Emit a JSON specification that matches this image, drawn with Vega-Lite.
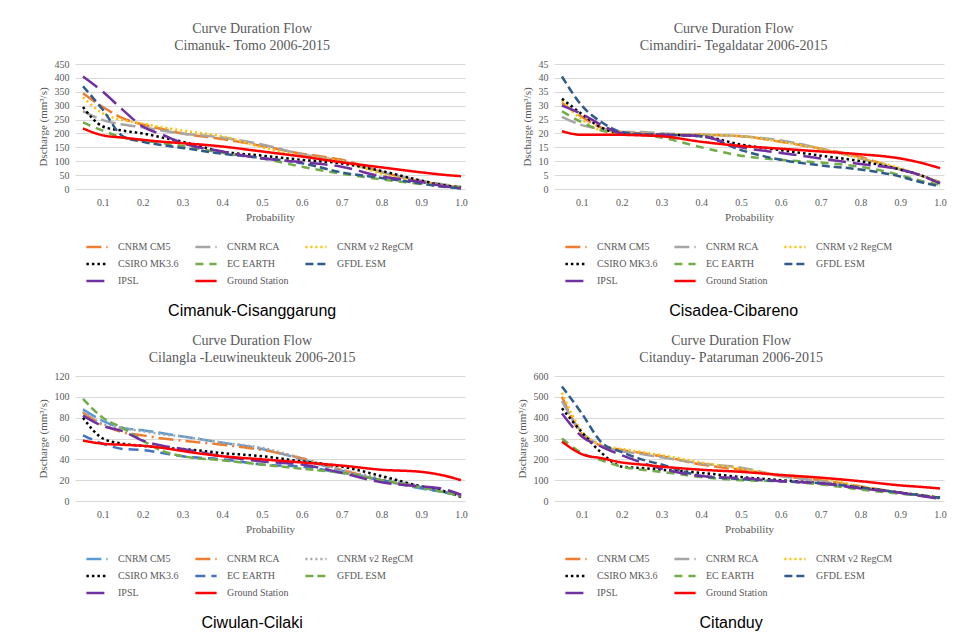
{
  "$schema": "https://vega.github.io/schema/vega-lite/v6.json",
  "background": "white",
  "padding": {"left": 37, "top": 22, "right": 0, "bottom": 0},
  "datasets": {
    "p1": [
      {"m":"CNRM CM5","p":0.05,"q":345},{"m":"CNRM CM5","p":0.1,"q":295},{"m":"CNRM CM5","p":0.15,"q":255},{"m":"CNRM CM5","p":0.2,"q":232},{"m":"CNRM CM5","p":0.25,"q":215},{"m":"CNRM CM5","p":0.3,"q":200},{"m":"CNRM CM5","p":0.4,"q":180},{"m":"CNRM CM5","p":0.5,"q":155},{"m":"CNRM CM5","p":0.6,"q":127},{"m":"CNRM CM5","p":0.7,"q":105},{"m":"CNRM CM5","p":0.8,"q":62},{"m":"CNRM CM5","p":0.9,"q":27},{"m":"CNRM CM5","p":0.95,"q":15},{"m":"CNRM CM5","p":1.0,"q":5},
      {"m":"CNRM RCA","p":0.05,"q":280},{"m":"CNRM RCA","p":0.1,"q":248},{"m":"CNRM RCA","p":0.15,"q":232},{"m":"CNRM RCA","p":0.2,"q":222},{"m":"CNRM RCA","p":0.25,"q":210},{"m":"CNRM RCA","p":0.3,"q":200},{"m":"CNRM RCA","p":0.4,"q":185},{"m":"CNRM RCA","p":0.5,"q":160},{"m":"CNRM RCA","p":0.6,"q":125},{"m":"CNRM RCA","p":0.7,"q":100},{"m":"CNRM RCA","p":0.8,"q":60},{"m":"CNRM RCA","p":0.9,"q":30},{"m":"CNRM RCA","p":0.95,"q":18},{"m":"CNRM RCA","p":1.0,"q":8},
      {"m":"CNRM v2 RegCM","p":0.05,"q":330},{"m":"CNRM v2 RegCM","p":0.1,"q":272},{"m":"CNRM v2 RegCM","p":0.15,"q":248},{"m":"CNRM v2 RegCM","p":0.2,"q":235},{"m":"CNRM v2 RegCM","p":0.25,"q":222},{"m":"CNRM v2 RegCM","p":0.3,"q":210},{"m":"CNRM v2 RegCM","p":0.4,"q":190},{"m":"CNRM v2 RegCM","p":0.5,"q":150},{"m":"CNRM v2 RegCM","p":0.6,"q":120},{"m":"CNRM v2 RegCM","p":0.7,"q":100},{"m":"CNRM v2 RegCM","p":0.8,"q":55},{"m":"CNRM v2 RegCM","p":0.9,"q":25},{"m":"CNRM v2 RegCM","p":0.95,"q":14},{"m":"CNRM v2 RegCM","p":1.0,"q":5},
      {"m":"CSIRO MK3.6","p":0.05,"q":295},{"m":"CSIRO MK3.6","p":0.1,"q":225},{"m":"CSIRO MK3.6","p":0.15,"q":210},{"m":"CSIRO MK3.6","p":0.2,"q":200},{"m":"CSIRO MK3.6","p":0.25,"q":185},{"m":"CSIRO MK3.6","p":0.3,"q":170},{"m":"CSIRO MK3.6","p":0.4,"q":135},{"m":"CSIRO MK3.6","p":0.5,"q":120},{"m":"CSIRO MK3.6","p":0.6,"q":105},{"m":"CSIRO MK3.6","p":0.7,"q":92},{"m":"CSIRO MK3.6","p":0.8,"q":65},{"m":"CSIRO MK3.6","p":0.9,"q":30},{"m":"CSIRO MK3.6","p":0.95,"q":15},{"m":"CSIRO MK3.6","p":1.0,"q":5},
      {"m":"EC EARTH","p":0.05,"q":240},{"m":"EC EARTH","p":0.1,"q":210},{"m":"EC EARTH","p":0.15,"q":185},{"m":"EC EARTH","p":0.2,"q":175},{"m":"EC EARTH","p":0.25,"q":165},{"m":"EC EARTH","p":0.3,"q":155},{"m":"EC EARTH","p":0.4,"q":130},{"m":"EC EARTH","p":0.5,"q":110},{"m":"EC EARTH","p":0.6,"q":80},{"m":"EC EARTH","p":0.7,"q":55},{"m":"EC EARTH","p":0.8,"q":35},{"m":"EC EARTH","p":0.9,"q":18},{"m":"EC EARTH","p":0.95,"q":10},{"m":"EC EARTH","p":1.0,"q":3},
      {"m":"GFDL ESM","p":0.05,"q":370},{"m":"GFDL ESM","p":0.1,"q":285},{"m":"GFDL ESM","p":0.15,"q":190},{"m":"GFDL ESM","p":0.2,"q":170},{"m":"GFDL ESM","p":0.25,"q":158},{"m":"GFDL ESM","p":0.3,"q":148},{"m":"GFDL ESM","p":0.4,"q":127},{"m":"GFDL ESM","p":0.5,"q":112},{"m":"GFDL ESM","p":0.6,"q":93},{"m":"GFDL ESM","p":0.7,"q":60},{"m":"GFDL ESM","p":0.8,"q":40},{"m":"GFDL ESM","p":0.9,"q":20},{"m":"GFDL ESM","p":0.95,"q":9},{"m":"GFDL ESM","p":1.0,"q":3},
      {"m":"IPSL","p":0.05,"q":405},{"m":"IPSL","p":0.1,"q":350},{"m":"IPSL","p":0.15,"q":285},{"m":"IPSL","p":0.2,"q":225},{"m":"IPSL","p":0.25,"q":195},{"m":"IPSL","p":0.3,"q":165},{"m":"IPSL","p":0.4,"q":135},{"m":"IPSL","p":0.5,"q":110},{"m":"IPSL","p":0.6,"q":97},{"m":"IPSL","p":0.7,"q":80},{"m":"IPSL","p":0.8,"q":45},{"m":"IPSL","p":0.9,"q":25},{"m":"IPSL","p":0.95,"q":12},{"m":"IPSL","p":1.0,"q":2},
      {"m":"Ground Station","p":0.05,"q":218},{"m":"Ground Station","p":0.1,"q":193},{"m":"Ground Station","p":0.15,"q":185},{"m":"Ground Station","p":0.2,"q":177},{"m":"Ground Station","p":0.25,"q":170},{"m":"Ground Station","p":0.3,"q":165},{"m":"Ground Station","p":0.4,"q":153},{"m":"Ground Station","p":0.5,"q":135},{"m":"Ground Station","p":0.6,"q":117},{"m":"Ground Station","p":0.7,"q":96},{"m":"Ground Station","p":0.8,"q":78},{"m":"Ground Station","p":0.9,"q":60},{"m":"Ground Station","p":0.95,"q":52},{"m":"Ground Station","p":1.0,"q":46}
    ],
    "p2": [
      {"m":"CNRM CM5","p":0.05,"q":31},{"m":"CNRM CM5","p":0.1,"q":26},{"m":"CNRM CM5","p":0.15,"q":22},{"m":"CNRM CM5","p":0.2,"q":20.5},{"m":"CNRM CM5","p":0.25,"q":20},{"m":"CNRM CM5","p":0.3,"q":19.5},{"m":"CNRM CM5","p":0.4,"q":19.5},{"m":"CNRM CM5","p":0.5,"q":19},{"m":"CNRM CM5","p":0.6,"q":17},{"m":"CNRM CM5","p":0.7,"q":14.5},{"m":"CNRM CM5","p":0.8,"q":11.5},{"m":"CNRM CM5","p":0.9,"q":7},{"m":"CNRM CM5","p":0.95,"q":5},{"m":"CNRM CM5","p":1.0,"q":2},
      {"m":"CNRM RCA","p":0.05,"q":26},{"m":"CNRM RCA","p":0.1,"q":23},{"m":"CNRM RCA","p":0.15,"q":21.5},{"m":"CNRM RCA","p":0.2,"q":20.5},{"m":"CNRM RCA","p":0.25,"q":20.5},{"m":"CNRM RCA","p":0.3,"q":20},{"m":"CNRM RCA","p":0.4,"q":19.5},{"m":"CNRM RCA","p":0.5,"q":19},{"m":"CNRM RCA","p":0.6,"q":17.5},{"m":"CNRM RCA","p":0.7,"q":14.5},{"m":"CNRM RCA","p":0.8,"q":11},{"m":"CNRM RCA","p":0.9,"q":7},{"m":"CNRM RCA","p":0.95,"q":5},{"m":"CNRM RCA","p":1.0,"q":2.5},
      {"m":"CNRM v2 RegCM","p":0.05,"q":32},{"m":"CNRM v2 RegCM","p":0.1,"q":25},{"m":"CNRM v2 RegCM","p":0.15,"q":21},{"m":"CNRM v2 RegCM","p":0.2,"q":20},{"m":"CNRM v2 RegCM","p":0.25,"q":20},{"m":"CNRM v2 RegCM","p":0.3,"q":19.5},{"m":"CNRM v2 RegCM","p":0.4,"q":19.5},{"m":"CNRM v2 RegCM","p":0.5,"q":19},{"m":"CNRM v2 RegCM","p":0.6,"q":17},{"m":"CNRM v2 RegCM","p":0.7,"q":14.5},{"m":"CNRM v2 RegCM","p":0.8,"q":11},{"m":"CNRM v2 RegCM","p":0.9,"q":7.5},{"m":"CNRM v2 RegCM","p":0.95,"q":5},{"m":"CNRM v2 RegCM","p":1.0,"q":2.5},
      {"m":"CSIRO MK3.6","p":0.05,"q":32.5},{"m":"CSIRO MK3.6","p":0.1,"q":27},{"m":"CSIRO MK3.6","p":0.15,"q":22},{"m":"CSIRO MK3.6","p":0.2,"q":20},{"m":"CSIRO MK3.6","p":0.25,"q":19.5},{"m":"CSIRO MK3.6","p":0.3,"q":19.5},{"m":"CSIRO MK3.6","p":0.4,"q":19},{"m":"CSIRO MK3.6","p":0.5,"q":16},{"m":"CSIRO MK3.6","p":0.6,"q":14},{"m":"CSIRO MK3.6","p":0.7,"q":12},{"m":"CSIRO MK3.6","p":0.8,"q":10},{"m":"CSIRO MK3.6","p":0.9,"q":7},{"m":"CSIRO MK3.6","p":0.95,"q":5},{"m":"CSIRO MK3.6","p":1.0,"q":2},
      {"m":"EC EARTH","p":0.05,"q":28},{"m":"EC EARTH","p":0.1,"q":24},{"m":"EC EARTH","p":0.15,"q":21},{"m":"EC EARTH","p":0.2,"q":20},{"m":"EC EARTH","p":0.25,"q":19.5},{"m":"EC EARTH","p":0.3,"q":18.5},{"m":"EC EARTH","p":0.4,"q":15},{"m":"EC EARTH","p":0.5,"q":12},{"m":"EC EARTH","p":0.6,"q":10.5},{"m":"EC EARTH","p":0.7,"q":9.5},{"m":"EC EARTH","p":0.8,"q":8},{"m":"EC EARTH","p":0.9,"q":5},{"m":"EC EARTH","p":0.95,"q":3},{"m":"EC EARTH","p":1.0,"q":1.5},
      {"m":"GFDL ESM","p":0.05,"q":40.5},{"m":"GFDL ESM","p":0.1,"q":30},{"m":"GFDL ESM","p":0.15,"q":24},{"m":"GFDL ESM","p":0.2,"q":20.5},{"m":"GFDL ESM","p":0.25,"q":19.8},{"m":"GFDL ESM","p":0.3,"q":19.5},{"m":"GFDL ESM","p":0.4,"q":19},{"m":"GFDL ESM","p":0.5,"q":14},{"m":"GFDL ESM","p":0.6,"q":10.5},{"m":"GFDL ESM","p":0.7,"q":8.5},{"m":"GFDL ESM","p":0.8,"q":7},{"m":"GFDL ESM","p":0.9,"q":4.5},{"m":"GFDL ESM","p":0.95,"q":2.5},{"m":"GFDL ESM","p":1.0,"q":1},
      {"m":"IPSL","p":0.05,"q":30},{"m":"IPSL","p":0.1,"q":27},{"m":"IPSL","p":0.15,"q":23},{"m":"IPSL","p":0.2,"q":20},{"m":"IPSL","p":0.25,"q":19.5},{"m":"IPSL","p":0.3,"q":19.5},{"m":"IPSL","p":0.4,"q":19},{"m":"IPSL","p":0.5,"q":15},{"m":"IPSL","p":0.6,"q":13},{"m":"IPSL","p":0.7,"q":11},{"m":"IPSL","p":0.8,"q":9},{"m":"IPSL","p":0.9,"q":7},{"m":"IPSL","p":0.95,"q":5},{"m":"IPSL","p":1.0,"q":2},
      {"m":"Ground Station","p":0.05,"q":20.8},{"m":"Ground Station","p":0.1,"q":19.5},{"m":"Ground Station","p":0.15,"q":19.5},{"m":"Ground Station","p":0.2,"q":19.5},{"m":"Ground Station","p":0.25,"q":19.3},{"m":"Ground Station","p":0.3,"q":19},{"m":"Ground Station","p":0.4,"q":17},{"m":"Ground Station","p":0.5,"q":15.5},{"m":"Ground Station","p":0.6,"q":14.5},{"m":"Ground Station","p":0.7,"q":13.5},{"m":"Ground Station","p":0.8,"q":12.5},{"m":"Ground Station","p":0.9,"q":11},{"m":"Ground Station","p":0.95,"q":9.5},{"m":"Ground Station","p":1.0,"q":7.5}
    ],
    "p3": [
      {"m":"CNRM CM5","p":0.05,"q":88},{"m":"CNRM CM5","p":0.1,"q":77},{"m":"CNRM CM5","p":0.15,"q":70},{"m":"CNRM CM5","p":0.2,"q":68},{"m":"CNRM CM5","p":0.25,"q":65},{"m":"CNRM CM5","p":0.3,"q":62},{"m":"CNRM CM5","p":0.4,"q":56},{"m":"CNRM CM5","p":0.5,"q":50},{"m":"CNRM CM5","p":0.6,"q":40},{"m":"CNRM CM5","p":0.7,"q":29},{"m":"CNRM CM5","p":0.8,"q":20},{"m":"CNRM CM5","p":0.9,"q":12},{"m":"CNRM CM5","p":0.95,"q":9},{"m":"CNRM CM5","p":1.0,"q":6},
      {"m":"CNRM RCA","p":0.05,"q":85},{"m":"CNRM RCA","p":0.1,"q":73},{"m":"CNRM RCA","p":0.15,"q":66},{"m":"CNRM RCA","p":0.2,"q":63},{"m":"CNRM RCA","p":0.25,"q":60},{"m":"CNRM RCA","p":0.3,"q":58},{"m":"CNRM RCA","p":0.4,"q":54},{"m":"CNRM RCA","p":0.5,"q":49},{"m":"CNRM RCA","p":0.6,"q":41},{"m":"CNRM RCA","p":0.7,"q":30},{"m":"CNRM RCA","p":0.8,"q":20},{"m":"CNRM RCA","p":0.9,"q":13},{"m":"CNRM RCA","p":0.95,"q":10},{"m":"CNRM RCA","p":1.0,"q":6},
      {"m":"CNRM v2 RegCM","p":0.05,"q":86},{"m":"CNRM v2 RegCM","p":0.1,"q":74},{"m":"CNRM v2 RegCM","p":0.15,"q":70},{"m":"CNRM v2 RegCM","p":0.2,"q":67},{"m":"CNRM v2 RegCM","p":0.25,"q":64},{"m":"CNRM v2 RegCM","p":0.3,"q":62},{"m":"CNRM v2 RegCM","p":0.4,"q":56},{"m":"CNRM v2 RegCM","p":0.5,"q":51},{"m":"CNRM v2 RegCM","p":0.6,"q":41},{"m":"CNRM v2 RegCM","p":0.7,"q":30},{"m":"CNRM v2 RegCM","p":0.8,"q":22},{"m":"CNRM v2 RegCM","p":0.9,"q":14},{"m":"CNRM v2 RegCM","p":0.95,"q":10},{"m":"CNRM v2 RegCM","p":1.0,"q":6},
      {"m":"CSIRO MK3.6","p":0.05,"q":80},{"m":"CSIRO MK3.6","p":0.1,"q":60},{"m":"CSIRO MK3.6","p":0.15,"q":55},{"m":"CSIRO MK3.6","p":0.2,"q":53},{"m":"CSIRO MK3.6","p":0.25,"q":51},{"m":"CSIRO MK3.6","p":0.3,"q":50},{"m":"CSIRO MK3.6","p":0.4,"q":46},{"m":"CSIRO MK3.6","p":0.5,"q":43},{"m":"CSIRO MK3.6","p":0.6,"q":38},{"m":"CSIRO MK3.6","p":0.7,"q":33},{"m":"CSIRO MK3.6","p":0.8,"q":24},{"m":"CSIRO MK3.6","p":0.9,"q":14},{"m":"CSIRO MK3.6","p":0.95,"q":10},{"m":"CSIRO MK3.6","p":1.0,"q":4},
      {"m":"EC EARTH","p":0.05,"q":63},{"m":"EC EARTH","p":0.1,"q":55},{"m":"EC EARTH","p":0.15,"q":50},{"m":"EC EARTH","p":0.2,"q":49},{"m":"EC EARTH","p":0.25,"q":46},{"m":"EC EARTH","p":0.3,"q":43},{"m":"EC EARTH","p":0.4,"q":40},{"m":"EC EARTH","p":0.5,"q":35},{"m":"EC EARTH","p":0.6,"q":33},{"m":"EC EARTH","p":0.7,"q":27},{"m":"EC EARTH","p":0.8,"q":20},{"m":"EC EARTH","p":0.9,"q":13},{"m":"EC EARTH","p":0.95,"q":9},{"m":"EC EARTH","p":1.0,"q":5},
      {"m":"GFDL ESM","p":0.05,"q":98},{"m":"GFDL ESM","p":0.1,"q":80},{"m":"GFDL ESM","p":0.15,"q":70},{"m":"GFDL ESM","p":0.2,"q":58},{"m":"GFDL ESM","p":0.25,"q":48},{"m":"GFDL ESM","p":0.3,"q":43},{"m":"GFDL ESM","p":0.4,"q":39},{"m":"GFDL ESM","p":0.5,"q":35},{"m":"GFDL ESM","p":0.6,"q":31},{"m":"GFDL ESM","p":0.7,"q":27},{"m":"GFDL ESM","p":0.8,"q":20},{"m":"GFDL ESM","p":0.9,"q":13},{"m":"GFDL ESM","p":0.95,"q":9},{"m":"GFDL ESM","p":1.0,"q":5},
      {"m":"IPSL","p":0.05,"q":82},{"m":"IPSL","p":0.1,"q":72},{"m":"IPSL","p":0.15,"q":67},{"m":"IPSL","p":0.2,"q":58},{"m":"IPSL","p":0.25,"q":53},{"m":"IPSL","p":0.3,"q":50},{"m":"IPSL","p":0.4,"q":43},{"m":"IPSL","p":0.5,"q":38},{"m":"IPSL","p":0.6,"q":35},{"m":"IPSL","p":0.7,"q":27},{"m":"IPSL","p":0.8,"q":18},{"m":"IPSL","p":0.9,"q":14},{"m":"IPSL","p":0.95,"q":12},{"m":"IPSL","p":1.0,"q":6},
      {"m":"Ground Station","p":0.05,"q":58},{"m":"Ground Station","p":0.1,"q":55},{"m":"Ground Station","p":0.15,"q":54},{"m":"Ground Station","p":0.2,"q":53},{"m":"Ground Station","p":0.25,"q":51},{"m":"Ground Station","p":0.3,"q":48},{"m":"Ground Station","p":0.4,"q":43},{"m":"Ground Station","p":0.5,"q":40},{"m":"Ground Station","p":0.6,"q":37},{"m":"Ground Station","p":0.7,"q":34},{"m":"Ground Station","p":0.8,"q":30},{"m":"Ground Station","p":0.9,"q":28},{"m":"Ground Station","p":0.95,"q":25},{"m":"Ground Station","p":1.0,"q":20}
    ],
    "p4": [
      {"m":"CNRM CM5","p":0.05,"q":500},{"m":"CNRM CM5","p":0.1,"q":320},{"m":"CNRM CM5","p":0.15,"q":265},{"m":"CNRM CM5","p":0.2,"q":245},{"m":"CNRM CM5","p":0.25,"q":230},{"m":"CNRM CM5","p":0.3,"q":215},{"m":"CNRM CM5","p":0.4,"q":175},{"m":"CNRM CM5","p":0.5,"q":150},{"m":"CNRM CM5","p":0.6,"q":120},{"m":"CNRM CM5","p":0.7,"q":100},{"m":"CNRM CM5","p":0.8,"q":70},{"m":"CNRM CM5","p":0.9,"q":40},{"m":"CNRM CM5","p":0.95,"q":28},{"m":"CNRM CM5","p":1.0,"q":15},
      {"m":"CNRM RCA","p":0.05,"q":480},{"m":"CNRM RCA","p":0.1,"q":330},{"m":"CNRM RCA","p":0.15,"q":265},{"m":"CNRM RCA","p":0.2,"q":240},{"m":"CNRM RCA","p":0.25,"q":225},{"m":"CNRM RCA","p":0.3,"q":210},{"m":"CNRM RCA","p":0.4,"q":180},{"m":"CNRM RCA","p":0.5,"q":160},{"m":"CNRM RCA","p":0.6,"q":120},{"m":"CNRM RCA","p":0.7,"q":95},{"m":"CNRM RCA","p":0.8,"q":65},{"m":"CNRM RCA","p":0.9,"q":40},{"m":"CNRM RCA","p":0.95,"q":28},{"m":"CNRM RCA","p":1.0,"q":15},
      {"m":"CNRM v2 RegCM","p":0.05,"q":520},{"m":"CNRM v2 RegCM","p":0.1,"q":335},{"m":"CNRM v2 RegCM","p":0.15,"q":270},{"m":"CNRM v2 RegCM","p":0.2,"q":250},{"m":"CNRM v2 RegCM","p":0.25,"q":235},{"m":"CNRM v2 RegCM","p":0.3,"q":220},{"m":"CNRM v2 RegCM","p":0.4,"q":185},{"m":"CNRM v2 RegCM","p":0.5,"q":155},{"m":"CNRM v2 RegCM","p":0.6,"q":125},{"m":"CNRM v2 RegCM","p":0.7,"q":110},{"m":"CNRM v2 RegCM","p":0.8,"q":70},{"m":"CNRM v2 RegCM","p":0.9,"q":40},{"m":"CNRM v2 RegCM","p":0.95,"q":28},{"m":"CNRM v2 RegCM","p":1.0,"q":15},
      {"m":"CSIRO MK3.6","p":0.05,"q":445},{"m":"CSIRO MK3.6","p":0.1,"q":330},{"m":"CSIRO MK3.6","p":0.15,"q":230},{"m":"CSIRO MK3.6","p":0.2,"q":165},{"m":"CSIRO MK3.6","p":0.25,"q":158},{"m":"CSIRO MK3.6","p":0.3,"q":150},{"m":"CSIRO MK3.6","p":0.4,"q":135},{"m":"CSIRO MK3.6","p":0.5,"q":115},{"m":"CSIRO MK3.6","p":0.6,"q":100},{"m":"CSIRO MK3.6","p":0.7,"q":85},{"m":"CSIRO MK3.6","p":0.8,"q":65},{"m":"CSIRO MK3.6","p":0.9,"q":40},{"m":"CSIRO MK3.6","p":0.95,"q":28},{"m":"CSIRO MK3.6","p":1.0,"q":15},
      {"m":"EC EARTH","p":0.05,"q":300},{"m":"EC EARTH","p":0.1,"q":230},{"m":"EC EARTH","p":0.15,"q":195},{"m":"EC EARTH","p":0.2,"q":165},{"m":"EC EARTH","p":0.25,"q":150},{"m":"EC EARTH","p":0.3,"q":140},{"m":"EC EARTH","p":0.4,"q":115},{"m":"EC EARTH","p":0.5,"q":100},{"m":"EC EARTH","p":0.6,"q":95},{"m":"EC EARTH","p":0.7,"q":80},{"m":"EC EARTH","p":0.8,"q":55},{"m":"EC EARTH","p":0.9,"q":35},{"m":"EC EARTH","p":0.95,"q":25},{"m":"EC EARTH","p":1.0,"q":12},
      {"m":"GFDL ESM","p":0.05,"q":550},{"m":"GFDL ESM","p":0.1,"q":420},{"m":"GFDL ESM","p":0.15,"q":280},{"m":"GFDL ESM","p":0.2,"q":235},{"m":"GFDL ESM","p":0.25,"q":200},{"m":"GFDL ESM","p":0.3,"q":175},{"m":"GFDL ESM","p":0.4,"q":120},{"m":"GFDL ESM","p":0.5,"q":105},{"m":"GFDL ESM","p":0.6,"q":95},{"m":"GFDL ESM","p":0.7,"q":85},{"m":"GFDL ESM","p":0.8,"q":65},{"m":"GFDL ESM","p":0.9,"q":40},{"m":"GFDL ESM","p":0.95,"q":28},{"m":"GFDL ESM","p":1.0,"q":15},
      {"m":"IPSL","p":0.05,"q":420},{"m":"IPSL","p":0.1,"q":310},{"m":"IPSL","p":0.15,"q":260},{"m":"IPSL","p":0.2,"q":220},{"m":"IPSL","p":0.25,"q":185},{"m":"IPSL","p":0.3,"q":155},{"m":"IPSL","p":0.4,"q":120},{"m":"IPSL","p":0.5,"q":110},{"m":"IPSL","p":0.6,"q":95},{"m":"IPSL","p":0.7,"q":85},{"m":"IPSL","p":0.8,"q":60},{"m":"IPSL","p":0.9,"q":40},{"m":"IPSL","p":0.95,"q":25},{"m":"IPSL","p":1.0,"q":10},
      {"m":"Ground Station","p":0.05,"q":285},{"m":"Ground Station","p":0.1,"q":225},{"m":"Ground Station","p":0.15,"q":205},{"m":"Ground Station","p":0.2,"q":185},{"m":"Ground Station","p":0.25,"q":175},{"m":"Ground Station","p":0.3,"q":165},{"m":"Ground Station","p":0.4,"q":150},{"m":"Ground Station","p":0.5,"q":140},{"m":"Ground Station","p":0.6,"q":125},{"m":"Ground Station","p":0.7,"q":112},{"m":"Ground Station","p":0.8,"q":95},{"m":"Ground Station","p":0.9,"q":75},{"m":"Ground Station","p":0.95,"q":68},{"m":"Ground Station","p":1.0,"q":60}
    ]
  },
  "columns": 2,
  "spacing": {"row": 15, "column": 48},
  "resolve": {"scale": {"x": "independent", "y": "independent", "color": "independent", "strokeDash": "independent"}, "legend": {"color": "independent", "strokeDash": "independent"}},
  "concat": [
    {
      "vconcat": [{
        "width": 390, "height": 125,
        "data": {"name": "p1"},
        "title": {"text": ["Curve Duration Flow", "Cimanuk- Tomo 2006-2015"], "font": "Liberation Serif", "fontSize": 14, "fontWeight": "normal", "color": "#595959", "lineHeight": 17, "offset": 6, "anchor": "middle", "frame": "bounds"},
        "mark": {"type": "line", "strokeWidth": 2.5, "interpolate": "monotone"},
        "encoding": {
          "x": {"field": "p", "type": "quantitative", "scale": {"domain": [0.03, 1.01], "nice": false}, "axis": {"values": [0.1,0.2,0.3,0.4,0.5,0.6,0.7,0.8,0.9,1.0], "format": ".1f", "title": "Probability", "grid": false, "labelPadding": 8, "titlePadding": 4}},
          "y": {"field": "q", "type": "quantitative", "scale": {"domain": [0, 450], "nice": false}, "axis": {"values": [0,50,100,150,200,250,300,350,400,450], "title": "Dscharge (mm³/s)", "labelPadding": 6, "titlePadding": 6}},
          "color": {"field": "m", "type": "nominal", "scale": {"domain": ["CNRM CM5","CNRM RCA","CNRM v2 RegCM","CSIRO MK3.6","EC EARTH","GFDL ESM","IPSL","Ground Station"], "range": ["#ED7D31","#A5A5A5","#FFC000","#000000","#70AD47","#2E5B8C","#7030A0","#FF0000"]}, "legend": {"orient": "none", "legendX": 10, "legendY": 171, "direction": "horizontal", "columns": 3, "title": null}},
          "strokeDash": {"field": "m", "type": "nominal", "scale": {"domain": ["CNRM CM5","CNRM RCA","CNRM v2 RegCM","CSIRO MK3.6","EC EARTH","GFDL ESM","IPSL","Ground Station"], "range": [[15,5],[15,5],[2,3],[2.5,3],[8,6],[8,4],[18,7],[1,0]]}, "legend": {"orient": "none", "legendX": 10, "legendY": 171, "direction": "horizontal", "columns": 3, "title": null}}
        }
      }],
      "resolve": {"scale": {"color": "independent", "strokeDash": "independent"}},
      "title": {"text": "Cimanuk-Cisanggarung", "orient": "bottom", "font": "Liberation Sans", "fontSize": 16, "fontWeight": "normal", "color": "#000000", "offset": 17, "anchor": "middle"}
    },
    {
      "vconcat": [{
        "width": 390, "height": 125,
        "data": {"name": "p2"},
        "title": {"text": ["Curve Duration Flow", "Cimandiri- Tegaldatar 2006-2015"], "font": "Liberation Serif", "fontSize": 14, "fontWeight": "normal", "color": "#595959", "lineHeight": 17, "offset": 6, "anchor": "middle", "frame": "bounds"},
        "mark": {"type": "line", "strokeWidth": 2.5, "interpolate": "monotone"},
        "encoding": {
          "x": {"field": "p", "type": "quantitative", "scale": {"domain": [0.03, 1.01], "nice": false}, "axis": {"values": [0.1,0.2,0.3,0.4,0.5,0.6,0.7,0.8,0.9,1.0], "format": ".1f", "title": "Probability", "grid": false, "labelPadding": 8, "titlePadding": 4}},
          "y": {"field": "q", "type": "quantitative", "scale": {"domain": [0, 45], "nice": false}, "axis": {"values": [0,5,10,15,20,25,30,35,40,45], "title": "Dscharge (mm³/s)", "labelPadding": 6, "titlePadding": 6}},
          "color": {"field": "m", "type": "nominal", "scale": {"domain": ["CNRM CM5","CNRM RCA","CNRM v2 RegCM","CSIRO MK3.6","EC EARTH","GFDL ESM","IPSL","Ground Station"], "range": ["#ED7D31","#A5A5A5","#FFC000","#000000","#70AD47","#2E5B8C","#7030A0","#FF0000"]}, "legend": {"orient": "none", "legendX": 10, "legendY": 171, "direction": "horizontal", "columns": 3, "title": null}},
          "strokeDash": {"field": "m", "type": "nominal", "scale": {"domain": ["CNRM CM5","CNRM RCA","CNRM v2 RegCM","CSIRO MK3.6","EC EARTH","GFDL ESM","IPSL","Ground Station"], "range": [[15,5],[15,5],[2,3],[2.5,3],[8,6],[8,4],[18,7],[1,0]]}, "legend": {"orient": "none", "legendX": 10, "legendY": 171, "direction": "horizontal", "columns": 3, "title": null}}
        }
      }],
      "resolve": {"scale": {"color": "independent", "strokeDash": "independent"}},
      "title": {"text": "Cisadea-Cibareno", "orient": "bottom", "font": "Liberation Sans", "fontSize": 16, "fontWeight": "normal", "color": "#000000", "offset": 17, "anchor": "middle"}
    },
    {
      "vconcat": [{
        "width": 390, "height": 125,
        "data": {"name": "p3"},
        "title": {"text": ["Curve Duration Flow", "Cilangla -Leuwineukteuk 2006-2015"], "font": "Liberation Serif", "fontSize": 14, "fontWeight": "normal", "color": "#595959", "lineHeight": 17, "offset": 6, "anchor": "middle", "frame": "bounds"},
        "mark": {"type": "line", "strokeWidth": 2.5, "interpolate": "monotone"},
        "encoding": {
          "x": {"field": "p", "type": "quantitative", "scale": {"domain": [0.03, 1.01], "nice": false}, "axis": {"values": [0.1,0.2,0.3,0.4,0.5,0.6,0.7,0.8,0.9,1.0], "format": ".1f", "title": "Probability", "grid": false, "labelPadding": 8, "titlePadding": 4}},
          "y": {"field": "q", "type": "quantitative", "scale": {"domain": [0, 120], "nice": false}, "axis": {"values": [0,20,40,60,80,100,120], "title": "Dscharge (mm³/s)", "labelPadding": 6, "titlePadding": 6}},
          "color": {"field": "m", "type": "nominal", "scale": {"domain": ["CNRM CM5","CNRM RCA","CNRM v2 RegCM","CSIRO MK3.6","EC EARTH","GFDL ESM","IPSL","Ground Station"], "range": ["#5B9BD5","#ED7D31","#A5A5A5","#000000","#4472C4","#70AD47","#7030A0","#FF0000"]}, "legend": {"orient": "none", "legendX": 10, "legendY": 171, "direction": "horizontal", "columns": 3, "title": null}},
          "strokeDash": {"field": "m", "type": "nominal", "scale": {"domain": ["CNRM CM5","CNRM RCA","CNRM v2 RegCM","CSIRO MK3.6","EC EARTH","GFDL ESM","IPSL","Ground Station"], "range": [[15,5],[15,5,2,5],[2,3],[2.5,3],[10,6],[8,4],[18,7],[1,0]]}, "legend": {"orient": "none", "legendX": 10, "legendY": 171, "direction": "horizontal", "columns": 3, "title": null}}
        }
      }],
      "resolve": {"scale": {"color": "independent", "strokeDash": "independent"}},
      "title": {"text": "Ciwulan-Cilaki", "orient": "bottom", "font": "Liberation Sans", "fontSize": 16, "fontWeight": "normal", "color": "#000000", "offset": 17, "anchor": "middle"}
    },
    {
      "vconcat": [{
        "width": 390, "height": 125,
        "data": {"name": "p4"},
        "title": {"text": ["Curve Duration Flow", "Citanduy- Pataruman 2006-2015"], "font": "Liberation Serif", "fontSize": 14, "fontWeight": "normal", "color": "#595959", "lineHeight": 17, "offset": 6, "anchor": "middle", "frame": "bounds"},
        "mark": {"type": "line", "strokeWidth": 2.5, "interpolate": "monotone"},
        "encoding": {
          "x": {"field": "p", "type": "quantitative", "scale": {"domain": [0.03, 1.01], "nice": false}, "axis": {"values": [0.1,0.2,0.3,0.4,0.5,0.6,0.7,0.8,0.9,1.0], "format": ".1f", "title": "Probability", "grid": false, "labelPadding": 8, "titlePadding": 4}},
          "y": {"field": "q", "type": "quantitative", "scale": {"domain": [0, 600], "nice": false}, "axis": {"values": [0,100,200,300,400,500,600], "title": "Dscharge (mm³/s)", "labelPadding": 6, "titlePadding": 6}},
          "color": {"field": "m", "type": "nominal", "scale": {"domain": ["CNRM CM5","CNRM RCA","CNRM v2 RegCM","CSIRO MK3.6","EC EARTH","GFDL ESM","IPSL","Ground Station"], "range": ["#ED7D31","#A5A5A5","#FFC000","#000000","#70AD47","#2E5B8C","#7030A0","#FF0000"]}, "legend": {"orient": "none", "legendX": 10, "legendY": 171, "direction": "horizontal", "columns": 3, "title": null}},
          "strokeDash": {"field": "m", "type": "nominal", "scale": {"domain": ["CNRM CM5","CNRM RCA","CNRM v2 RegCM","CSIRO MK3.6","EC EARTH","GFDL ESM","IPSL","Ground Station"], "range": [[15,5],[15,5],[2,3],[2.5,3],[8,6],[8,4],[18,7],[1,0]]}, "legend": {"orient": "none", "legendX": 10, "legendY": 171, "direction": "horizontal", "columns": 3, "title": null}}
        }
      }],
      "resolve": {"scale": {"color": "independent", "strokeDash": "independent"}},
      "title": {"text": "Citanduy", "orient": "bottom", "font": "Liberation Sans", "fontSize": 16, "fontWeight": "normal", "color": "#000000", "offset": 17, "anchor": "middle"}
    }
  ],
  "config": {
    "font": "Liberation Serif",
    "view": {"stroke": null},
    "axis": {"labelColor": "#595959", "titleColor": "#595959", "labelFont": "Liberation Serif", "titleFont": "Liberation Serif", "labelFontSize": 10, "titleFontSize": 11, "titleFontWeight": "normal", "ticks": false, "domain": false, "gridColor": "#D9D9D9", "gridWidth": 1},
    "legend": {"symbolType": "stroke", "symbolSize": 450, "symbolStrokeWidth": 2.5, "labelFont": "Liberation Serif", "labelFontSize": 10, "labelColor": "#595959", "columnPadding": 11, "rowPadding": -3.5, "labelOffset": 9, "labelLimit": 200}
  }
}
